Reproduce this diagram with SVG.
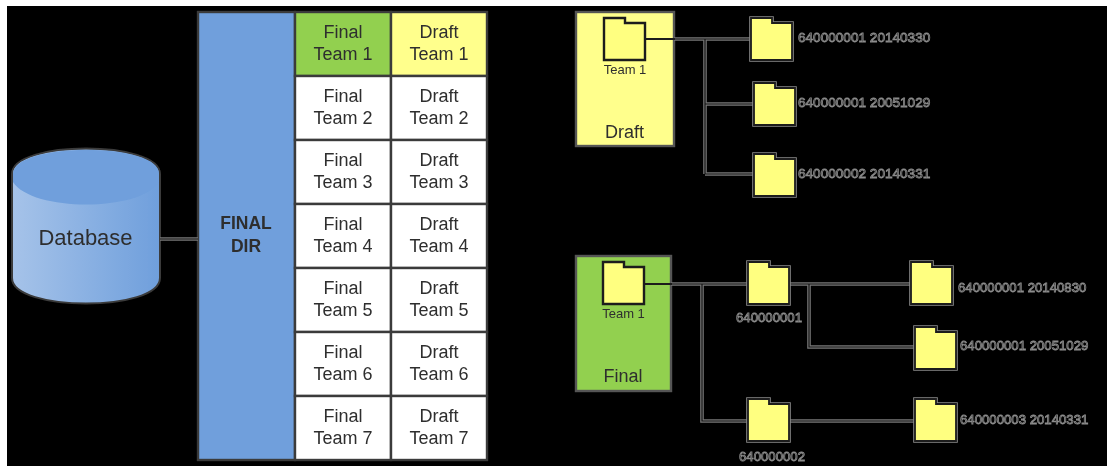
<svg xmlns="http://www.w3.org/2000/svg" width="1107" height="466" viewBox="0 0 1107 466">
<style>
text{font-family:"Liberation Sans",Arial,sans-serif;fill:#2e2e2e;text-anchor:middle}
.cell{stroke:#3a3a3a;stroke-width:2.4;fill:#fff}
.t{font-size:18px}
.box{stroke:#555;stroke-width:2.4}
.halo{fill:none;stroke:#8a8a8a;stroke-width:3.6}
.body{fill:#ffff80;stroke:#1c1c1c;stroke-width:1.8}
.team{fill:#ffff80;stroke:#1c1c1c;stroke-width:2.4}
.lbl{font-size:13.2px;fill:#050505;stroke:#8c8c8c;stroke-width:.85;text-anchor:start}
.lbd{font-size:13.6px}
.lblc{font-size:13.2px;fill:#050505;stroke:#8c8c8c;stroke-width:.85}
.cn{fill:none;stroke:#777;stroke-width:3.6}
.ci{fill:none;stroke:#141414;stroke-width:1.2}
.cd{fill:none;stroke:#1c1c1c;stroke-width:2}
</style>
<defs>
<linearGradient id="cyl" x1="0" x2="1" y1="0" y2="0"><stop offset="0" stop-color="#a6c3e9"/><stop offset="1" stop-color="#6f9fdc"/></linearGradient>
<filter id="soft" x="-2%" y="-2%" width="104%" height="104%"><feGaussianBlur stdDeviation="0.55"/></filter>
<path id="fp" d="M0 0H21V5H41V42H0Z"/>
<g id="folder"><use href="#fp" class="halo"/><use href="#fp" class="body"/></g>
</defs>
<rect width="1107" height="466" fill="#fff"/>
<rect x="7" y="6" width="1100" height="460" fill="#000"/>
<g filter="url(#soft)">
<g id="database">
<path d="M12 174C12 140 160 140 160 174V278C160 312 12 312 12 278Z" fill="url(#cyl)" stroke="#3a3a3a" stroke-width="2"/>
<path d="M13 174C13 142 159 142 159 174V182C140 212 32 212 13 182Z" fill="#6f9fdc"/>
<text x="85.500" y="245" font-size="22">Database</text>
</g>
<g id="final-dir">
<rect x="198" y="12" width="97" height="448" fill="#6f9fdc" stroke="#3a3a3a" stroke-width="2.4"/>
<text x="246" y="229" font-size="17.500" font-weight="bold">FINAL</text>
<text x="246" y="252" font-size="17.500" font-weight="bold">DIR</text>
</g>
<g id="final-team-1"><rect class="cell" x="295" y="12" width="96" height="64" style="fill:#92d050"/><text class="t" x="343" y="38">Final</text><text class="t" x="343" y="60">Team 1</text></g>
<g id="draft-team-1"><rect class="cell" x="391" y="12" width="96" height="64" style="fill:#ffff8c"/><text class="t" x="439" y="38">Draft</text><text class="t" x="439" y="60">Team 1</text></g>
<g id="final-team-2"><rect class="cell" x="295" y="76" width="96" height="64"/><text class="t" x="343" y="102">Final</text><text class="t" x="343" y="124">Team 2</text></g>
<g id="draft-team-2"><rect class="cell" x="391" y="76" width="96" height="64"/><text class="t" x="439" y="102">Draft</text><text class="t" x="439" y="124">Team 2</text></g>
<g id="final-team-3"><rect class="cell" x="295" y="140" width="96" height="64"/><text class="t" x="343" y="166">Final</text><text class="t" x="343" y="188">Team 3</text></g>
<g id="draft-team-3"><rect class="cell" x="391" y="140" width="96" height="64"/><text class="t" x="439" y="166">Draft</text><text class="t" x="439" y="188">Team 3</text></g>
<g id="final-team-4"><rect class="cell" x="295" y="204" width="96" height="64"/><text class="t" x="343" y="230">Final</text><text class="t" x="343" y="252">Team 4</text></g>
<g id="draft-team-4"><rect class="cell" x="391" y="204" width="96" height="64"/><text class="t" x="439" y="230">Draft</text><text class="t" x="439" y="252">Team 4</text></g>
<g id="final-team-5"><rect class="cell" x="295" y="268" width="96" height="64"/><text class="t" x="343" y="294">Final</text><text class="t" x="343" y="316">Team 5</text></g>
<g id="draft-team-5"><rect class="cell" x="391" y="268" width="96" height="64"/><text class="t" x="439" y="294">Draft</text><text class="t" x="439" y="316">Team 5</text></g>
<g id="final-team-6"><rect class="cell" x="295" y="332" width="96" height="64"/><text class="t" x="343" y="358">Final</text><text class="t" x="343" y="380">Team 6</text></g>
<g id="draft-team-6"><rect class="cell" x="391" y="332" width="96" height="64"/><text class="t" x="439" y="358">Draft</text><text class="t" x="439" y="380">Team 6</text></g>
<g id="final-team-7"><rect class="cell" x="295" y="396" width="96" height="64"/><text class="t" x="343" y="422">Final</text><text class="t" x="343" y="444">Team 7</text></g>
<g id="draft-team-7"><rect class="cell" x="391" y="396" width="96" height="64"/><text class="t" x="439" y="422">Draft</text><text class="t" x="439" y="444">Team 7</text></g>
<g id="draft-box">
<rect class="box" x="576" y="12" width="98" height="134" fill="#ffff8c"/>
<text class="t" x="624.500" y="138">Draft</text>
</g>
<g id="final-box">
<rect class="box" x="576" y="256" width="95" height="135" fill="#92d050"/>
<text class="t" x="623" y="382">Final</text>
</g>
<g id="connectors">
<path class="cn" d="M160 239H198M674 39H751M705 39V174M705 104H754M705 174H754M671 284H747M702 284V421H748M789 284H911M809 284V347H915M789 421H915"/>
<path class="ci" d="M160 239H198M674 39H751M705 39V174M705 104H754M705 174H754M671 284H747M702 284V421H748M789 284H911M809 284V347H915M789 421H915"/>
<path class="cd" d="M646 39H675M644 284H672"/>
</g>
<g id="draft-team-folder"><use href="#fp" class="team" x="604" y="18"/><text x="625" y="74" font-size="13">Team 1</text></g>
<g id="draft-f1"><use href="#folder" x="751" y="18"/><text class="lbl lbd" x="798" y="42">640000001 20140330</text></g>
<g id="draft-f2"><use href="#folder" x="754" y="83"/><text class="lbl lbd" x="798" y="107">640000001 20051029</text></g>
<g id="draft-f3"><use href="#folder" x="754" y="154"/><text class="lbl lbd" x="798" y="178">640000002 20140331</text></g>
<g id="final-team-folder"><use href="#fp" class="team" x="603" y="262"/><text x="623.500" y="318" font-size="13">Team 1</text></g>
<g id="final-n1"><use href="#folder" x="748" y="262"/><text class="lblc" x="769" y="322">640000001</text></g>
<g id="final-n2"><use href="#folder" x="748" y="399"/><text class="lblc" x="772" y="461">640000002</text></g>
<g id="final-f1"><use href="#folder" x="911" y="262"/><text class="lbl" x="958" y="292">640000001 20140830</text></g>
<g id="final-f2"><use href="#folder" x="915" y="327"/><text class="lbl" x="960" y="350">640000001 20051029</text></g>
<g id="final-f3"><use href="#folder" x="915" y="399"/><text class="lbl" x="960" y="424">640000003 20140331</text></g>
</g>
</svg>
